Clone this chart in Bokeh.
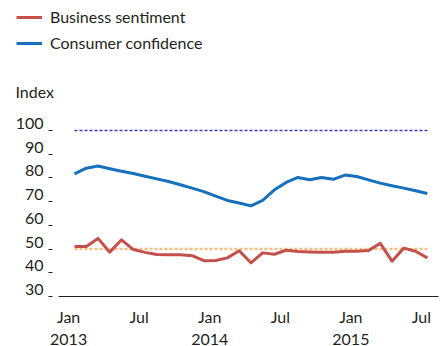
import numpy as np
from bokeh.plotting import figure
from bokeh.models import FixedTicker, Legend, LegendItem, Label, Range1d
from bokeh.embed import file_html
from bokeh.resources import INLINE

# ---- data ----
months = ["2013-01", "2013-02", "2013-03", "2013-04", "2013-05", "2013-06",
          "2013-07", "2013-08", "2013-09", "2013-10", "2013-11", "2013-12",
          "2014-01", "2014-02", "2014-03", "2014-04", "2014-05", "2014-06",
          "2014-07", "2014-08", "2014-09", "2014-10", "2014-11", "2014-12",
          "2015-01", "2015-02", "2015-03", "2015-04", "2015-05", "2015-06",
          "2015-07"]
business = [51.1, 51.1, 54.5, 48.7, 53.9, 49.8, 48.6, 47.7, 47.6, 47.6, 47.2,
            45.1, 45.2, 46.3, 49.3, 44.2, 48.4, 47.8, 49.5, 49.0, 48.8, 48.7,
            48.7, 49.1, 49.1, 49.4, 52.4, 44.9, 50.4, 49.1, 46.3]
consumer = [81.7, 84.1, 85.0, 83.9, 82.8, 81.9, 80.7, 79.6, 78.5, 77.1, 75.7,
            74.2, 72.3, 70.5, 69.4, 68.2, 70.5, 75.0, 78.1, 80.2, 79.2, 80.2,
            79.4, 81.2, 80.6, 79.2, 77.8, 76.7, 75.7, 74.6, 73.4]
business_ref = 50
consumer_ref = 100
series_names = ["Business sentiment", "Consumer confidence"]
x_tick_months = ["2013-01", "2013-07", "2014-01", "2014-07", "2015-01", "2015-07"]
x_tick_labels = ["Jan\n2013", "Jul", "Jan\n2014", "Jul", "Jan\n2015", "Jul"]
y_ticks = [30, 40, 50, 60, 70, 80, 90, 100]
y_title = "Index"

FONT = "Lato"
TXT = "#231f20"
RED = "#c4504c"
BLUE = "#1570bd"

W, H = 445, 346
x = np.arange(len(months))

# pixel geometry of the plotting area inside the figure
PX_MONTH = 11.76              # px per month
X0_PX = 74                    # px of first month
AX_LEFT, AX_RIGHT = 58, 438   # px span of the x axis line
Y30_PX, Y100_PX = 296, 130    # px (from top) of values 30 and 100
sy = (Y30_PX - Y100_PX) / (consumer_ref - y_ticks[0])

x_start = -X0_PX / PX_MONTH
x_end = (W - X0_PX) / PX_MONTH
y_start = y_ticks[0] - (H - Y30_PX) / sy
y_end = y_ticks[0] + Y30_PX / sy
ax_left_val = x_start + AX_LEFT / PX_MONTH
ax_right_val = x_start + AX_RIGHT / PX_MONTH

p = figure(width=W, height=H, output_backend="svg", toolbar_location=None,
           x_range=Range1d(x_start, x_end), y_range=Range1d(y_start, y_end),
           min_border=0, title=None)
p.outline_line_color = None
p.xgrid.visible = False
p.ygrid.visible = False

xr = [x[0], x[-1]]
p.line(xr, [consumer_ref, consumer_ref], line_color="#3b3bbb", line_width=1.3,
       line_dash="3 2")
p.line(xr, [business_ref, business_ref], line_color="#f7bd7f", line_width=2.6,
       line_dash="3 2")
r_bus = p.line(x, business, line_color=RED, line_width=3, line_join="round")
r_con = p.line(x, consumer, line_color=BLUE, line_width=3, line_join="round")

# x axis at value 30
tick_pos = [months.index(m) - 0.5 for m in x_tick_months]
xa = p.xaxis[0]
xa.fixed_location = y_ticks[0]
xa.bounds = (ax_left_val, ax_right_val)
xa.ticker = FixedTicker(ticks=tick_pos, minor_ticks=[])
xa.major_label_overrides = {t: l for t, l in zip(tick_pos, x_tick_labels)}
xa.axis_line_color = TXT
xa.axis_line_width = 1
xa.major_tick_line_color = None
xa.minor_tick_line_color = None
xa.major_tick_out = 0
xa.major_tick_in = 0
xa.minor_tick_out = 0
xa.minor_tick_in = 0
xa.major_label_standoff = 10
xa.major_label_text_font = FONT
xa.major_label_text_font_size = "16px"
xa.major_label_text_color = TXT
xa.major_label_text_line_height = 1.2

# y axis: dash marks at values, labels sitting just above them
shift = 7 / sy
ya = p.yaxis[0]
ya.fixed_location = ax_left_val
label_pos = [v + shift for v in y_ticks]
ya.ticker = FixedTicker(ticks=label_pos, minor_ticks=y_ticks)
ya.major_label_overrides = {lp: str(v) for lp, v in zip(label_pos, y_ticks)}
ya.axis_line_color = None
ya.major_tick_line_color = None
ya.major_tick_out = 0
ya.major_tick_in = 0
ya.minor_tick_line_color = TXT
ya.minor_tick_line_width = 1
ya.minor_tick_in = -6
ya.minor_tick_out = 10
ya.major_label_standoff = 5
ya.major_label_text_font = FONT
ya.major_label_text_font_size = "16px"
ya.major_label_text_color = TXT

legend = Legend(items=[LegendItem(label=series_names[0], renderers=[r_bus]),
                       LegendItem(label=series_names[1], renderers=[r_con])],
                location=(16, 294), orientation="vertical",
                glyph_width=26, glyph_height=16, label_height=16,
                label_standoff=8, spacing=7, padding=0, margin=0,
                border_line_color=None, background_fill_alpha=0,
                label_text_font=FONT, label_text_font_size="16px",
                label_text_color=TXT)
p.add_layout(legend, "center")

p.add_layout(Label(x=15, y=H - 91, x_units="screen", y_units="screen",
                   text=y_title, text_font=FONT, text_font_size="16px",
                   text_color=TXT, text_baseline="middle"))

open("out.html", "w").write(file_html(p, INLINE))
